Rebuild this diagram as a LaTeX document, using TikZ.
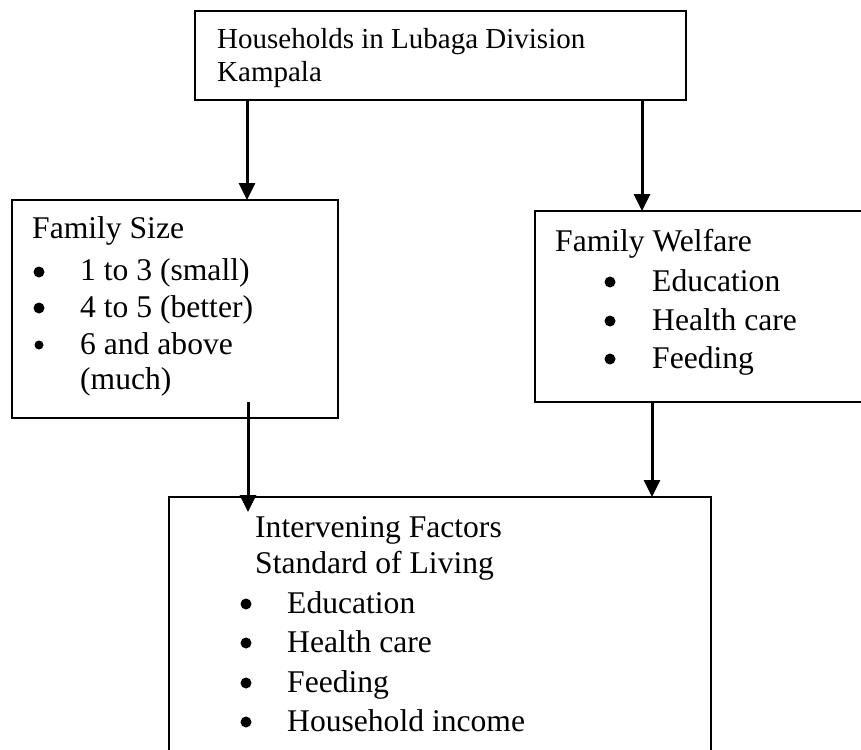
\documentclass[tikz,border=0pt]{standalone}
\usepackage{fontspec}
\setmainfont{Liberation Serif}
\usetikzlibrary{arrows.meta,calc}
\begin{document}
\begin{tikzpicture}[x=1pt,y=-1pt,
  box/.style={draw,line width=2.3pt,inner sep=0pt,outer sep=0pt,anchor=north west},
  arr/.style={line width=3pt,-{Triangle[width=16pt,length=17pt]}},
  txt/.style={anchor=base west,inner sep=0pt,font=\fontsize{31.6}{36}\selectfont},
  toptxt/.style={txt,font=\fontsize{29}{33}\selectfont},
  bul/.style={circle,fill,inner sep=0pt,minimum size=11pt}]
\clip (0,0) rectangle (861,749);
\fill[white] (0,0) rectangle (861,749);
% boxes
\node[box,minimum width=491pt,minimum height=89pt] (top) at (195,11) {};
\node[box,minimum width=326pt,minimum height=218pt] (fs) at (12,200) {};
\node[box,minimum width=340pt,minimum height=191pt] (fw) at (535,211) {};
\node[box,minimum width=542pt,minimum height=300pt] (iv) at (169,497) {};
% top text
\node[toptxt] (t1) at (217,49) {Households in Lubaga Division};
\node[toptxt] (t2) at (217,82) {Kampala};
% family size
\node[txt] (fs0) at (32,238) {Family Size};
\node[bul] (fsb1) at (39,272) {};
\node[txt] (fs1) at (80,280) {1 to 3 (small)};
\node[bul] (fsb2) at (39,308) {};
\node[txt] (fs2) at (80,317) {4 to 5 (better)};
\node[bul,minimum size=9pt] (fsb3) at (39,345) {};
\node[txt] (fs3) at (80,354) {6 and above};
\node[txt] (fs4) at (80,389) {(much)};
% family welfare
\node[txt] (fw0) at (555,251) {Family Welfare};
\node[bul] (fwb1) at (610,282) {};
\node[txt] (fw1) at (652,291) {Education};
\node[bul] (fwb2) at (610,321) {};
\node[txt] (fw2) at (652,330) {Health care};
\node[bul] (fwb3) at (610,359) {};
\node[txt] (fw3) at (652,368) {Feeding};
% intervening
\node[txt] (iv0) at (255,537) {Intervening Factors};
\node[txt] (iv1) at (255,573) {Standard of Living};
\node[bul] (ivb1) at (246,604) {};
\node[txt] (iv2) at (287,613) {Education};
\node[bul] (ivb2) at (246,643) {};
\node[txt] (iv3) at (287,652) {Health care};
\node[bul] (ivb3) at (246,683) {};
\node[txt] (iv4) at (287,692) {Feeding};
\node[bul] (ivb4) at (246,722) {};
\node[txt] (iv5) at (287,731) {Household income};
% arrows
\draw[arr] ([xshift=52pt]top.south west) -- ([xshift=52pt]top.south west |- fs.north);
\draw[arr] ([xshift=-44pt]top.south east) -- ([xshift=-44pt]top.south east |- fw.north);
\draw[arr] ([xshift=236pt,yshift=16pt]fs.south west) -- ([xshift=236pt,yshift=-15pt]fs.south west |- iv.north);
\draw[arr] ([xshift=117pt]fw.south west) -- ([xshift=117pt]fw.south west |- iv.north);
\end{tikzpicture}
\end{document}
